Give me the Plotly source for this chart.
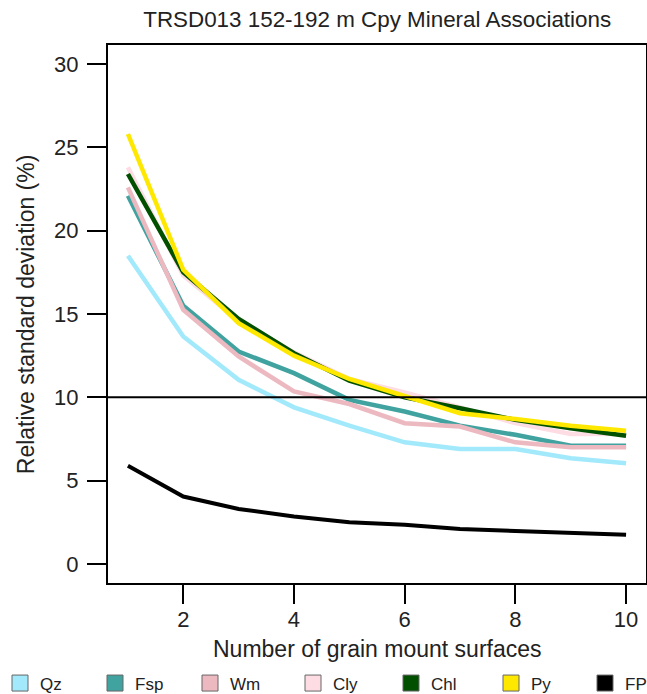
import plotly.graph_objects as go

# Number of grain mount surfaces
surfaces = [1, 2, 3, 4, 5, 6, 7, 8, 9, 10]

# Relative standard deviation (%) per mineral association
qz = [18.5, 13.65, 11.05, 9.4, 8.3, 7.3, 6.9, 6.9, 6.35, 6.05]
fsp = [22.1, 15.5, 12.75, 11.45, 9.85, 9.15, 8.3, 7.75, 7.1, 7.1]
wm = [22.6, 15.25, 12.45, 10.35, 9.6, 8.45, 8.25, 7.3, 7.0, 7.0]
cly = [23.8, 17.3, 14.6, 12.7, 11.1, 10.3, 9.4, 8.45, 7.8, 7.8]
chl = [23.4, 17.5, 14.7, 12.65, 11.0, 10.0, 9.35, 8.65, 8.15, 7.7]
py = [25.8, 17.65, 14.45, 12.5, 11.1, 10.05, 9.05, 8.7, 8.3, 8.0]
fp = [5.9, 4.05, 3.3, 2.85, 2.5, 2.35, 2.1, 2.0, 1.85, 1.75]

series_names = ["Qz", "Fsp", "Wm", "Cly", "Chl", "Py", "FP"]
series_values = [qz, fsp, wm, cly, chl, py, fp]
series_colors = ["#A2E9FB", "#40A3A0", "#EDB9C1", "#FDDDE3", "#005000", "#FFE800", "#000000"]
series_widths = [4.5, 4.5, 4.5, 4.5, 4.5, 4.5, 4]

threshold = 10

W, H = 647, 694
font_family = "Liberation Sans, Arial, sans-serif"
text_color = "#222222"

# Left edge (px) of each legend entry along the bottom row
legend_left_px = [0, 95, 190, 293, 391, 491, 585]

fig = go.Figure()

for name, vals, col, w in zip(series_names, series_values, series_colors, series_widths):
    fig.add_trace(go.Scatter(
        x=surfaces, y=vals, mode="lines", name=name,
        line=dict(color=col, width=w), showlegend=False,
    ))

# Square swatches, one single-entry legend per mineral
legend_layouts = {}
for i, (name, col) in enumerate(zip(series_names, series_colors)):
    key = "legend" if i == 0 else f"legend{i + 1}"
    fig.add_trace(go.Scatter(
        x=[None], y=[None], mode="markers", name=name,
        marker=dict(symbol="square", size=16, color=col,
                    line=dict(color="#666666", width=1)),
        showlegend=True, legend=key,
    ))
    legend_layouts[key] = dict(
        orientation="h", xref="container", yref="container",
        x=legend_left_px[i] / W, xanchor="left", y=10.5 / H, yanchor="middle",
        font=dict(size=17, color=text_color, family=font_family),
        itemsizing="trace", bgcolor="rgba(0,0,0,0)", borderwidth=0,
    )

# Reference line at 10 %
fig.add_shape(type="line", xref="paper", x0=0, x1=1, yref="y",
              y0=threshold, y1=threshold, line=dict(color="black", width=2))

# Axis titles
fig.add_annotation(text="Number of grain mount surfaces", xref="paper", yref="paper",
                   x=0.5, y=-0.1227, xanchor="center", yanchor="middle",
                   showarrow=False, font=dict(size=23, color=text_color))
fig.add_annotation(text="Relative standard deviation (%)", xref="paper", yref="paper",
                   x=-0.152, y=0.5, xanchor="center", yanchor="middle", textangle=-90,
                   showarrow=False, font=dict(size=23, color=text_color))

fig.update_layout(
    width=W, height=H,
    margin=dict(l=108, r=1, t=45, b=111, autoexpand=False),
    paper_bgcolor="white", plot_bgcolor="white",
    font=dict(family=font_family, color=text_color, size=22),
    title=dict(text="TRSD013 152-192 m Cpy Mineral Associations",
               x=0.583, xanchor="center", y=0.973, yanchor="middle",
               font=dict(size=22.4, color=text_color)),
    showlegend=True,
    **legend_layouts,
)

fig.update_xaxes(
    range=[0.64, 10.36], tickvals=[2, 4, 6, 8, 10],
    showgrid=False, zeroline=False,
    showline=True, mirror=True, linecolor="black", linewidth=2,
    ticks="outside", ticklen=19, tickwidth=2, tickcolor="black",
    tickfont=dict(size=22, color=text_color), ticklabelstandoff=-3,
)
fig.update_yaxes(
    range=[-1.14, 31.14], tickvals=[0, 5, 10, 15, 20, 25, 30],
    showgrid=False, zeroline=False,
    showline=True, mirror=True, linecolor="black", linewidth=2,
    ticks="outside", ticklen=19, tickwidth=2, tickcolor="black",
    tickfont=dict(size=22, color=text_color), ticklabelstandoff=4,
)

fig.write_html("out.html")
